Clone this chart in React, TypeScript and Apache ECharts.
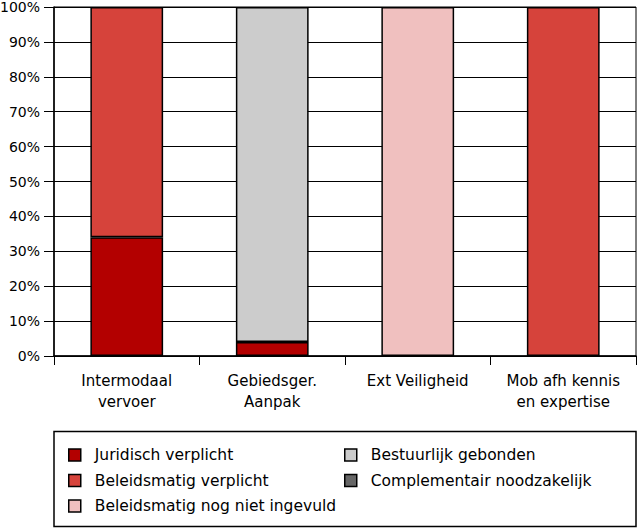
import React, { useEffect, useRef } from "react";
import * as echarts from "echarts";

const categories = ["Intermodaal\nvervoer", "Gebiedsger.\nAanpak", "Ext Veiligheid", "Mob afh kennis\nen expertise"];
const seriesNames = [
  "Juridisch verplicht",
  "Beleidsmatig verplicht",
  "Beleidsmatig nog niet ingevuld",
  "Bestuurlijk gebonden",
  "Complementair noodzakelijk",
];
const juridisch = [34, 4, null, null];
const beleidsmatig = [66, null, null, 100];
const nogNiet = [null, null, 100, null];
const bestuurlijk = [null, 96, null, null];
const complementair = [null, null, null, null];
const yTicks = [0, 10, 20, 30, 40, 50, 60, 70, 80, 90, 100];
const colors = ["#b30000", "#d6433b", "#f0c0bf", "#cccccc", "#666666"];

export default function App() {
  const ref = useRef<HTMLDivElement>(null);
  useEffect(() => {
    if (!ref.current) return;
    const chart = echarts.init(ref.current, null, { renderer: "svg" });
    const font = "DejaVu Sans";
    const values = [juridisch, beleidsmatig, nogNiet, bestuurlijk, complementair];
    const legendItem = (name: string, i: number) => ({
      name,
      itemStyle: { color: colors[i], borderColor: "#000", borderWidth: 1.5 },
    });
    const legendText = { fontSize: 15.5, fontFamily: font, color: "#000", padding: [0, 0, 0, 9], lineHeight: 16 };
    chart.setOption({
      animation: false,
      textStyle: { fontFamily: font },
      grid: {
        left: 54,
        right: 2,
        top: 7,
        bottom: 173,
        outerBoundsMode: "none",
        containLabel: false,
        show: true,
        borderColor: "#000",
        borderWidth: 1,
        backgroundColor: "transparent",
      },
      xAxis: {
        type: "category",
        data: categories,
        boundaryGap: true,
        axisLine: { lineStyle: { color: "#000", width: 1.5 } },
        axisTick: { show: true, interval: 0, length: 9, lineStyle: { color: "#000" } },
        axisLabel: {
          interval: 0,
          color: "#000",
          fontSize: 15,
          fontFamily: font,
          margin: 14,
          lineHeight: 21,
        },
      },
      yAxis: {
        type: "value",
        min: yTicks[0],
        max: yTicks[yTicks.length - 1],
        interval: 10,
        axisLine: { show: true, lineStyle: { color: "#000", width: 1.5 } },
        axisTick: { show: true, length: 10, lineStyle: { color: "#000" } },
        axisLabel: {
          formatter: "{value}%",
          color: "#000",
          fontSize: 14,
          fontFamily: font,
          margin: 14,
        },
        splitLine: { show: true, lineStyle: { color: "#000", width: 1 } },
      },
      legend: [
        {
          orient: "vertical",
          left: 68,
          top: 447,
          padding: 0,
          itemWidth: 12,
          itemHeight: 12,
          itemGap: 9.5,
          icon: "rect",
          textStyle: legendText,
          data: seriesNames.slice(0, 3).map((n, i) => legendItem(n, i)),
        },
        {
          orient: "vertical",
          left: 344,
          top: 447,
          padding: 0,
          itemWidth: 12,
          itemHeight: 12,
          itemGap: 9.5,
          icon: "rect",
          textStyle: legendText,
          data: seriesNames.slice(3).map((n, i) => legendItem(n, i + 3)),
        },
      ],
      graphic: [
        {
          type: "rect",
          shape: { x: 54, y: 431.5, width: 582, height: 95 },
          style: { fill: "none", stroke: "#000", lineWidth: 1.5 },
          silent: true,
        },
      ],
      series: seriesNames.map((name, i) => ({
        name,
        type: "bar",
        stack: "total",
        barWidth: "50%",
        data: values[i],
        itemStyle: { color: colors[i], borderColor: "#000", borderWidth: 1.5 },
      })),
    });
    return () => chart.dispose();
  }, []);
  return <div ref={ref} style={{ width: 638, height: 529, position: "absolute", left: 0, top: 0 }} />;
}
